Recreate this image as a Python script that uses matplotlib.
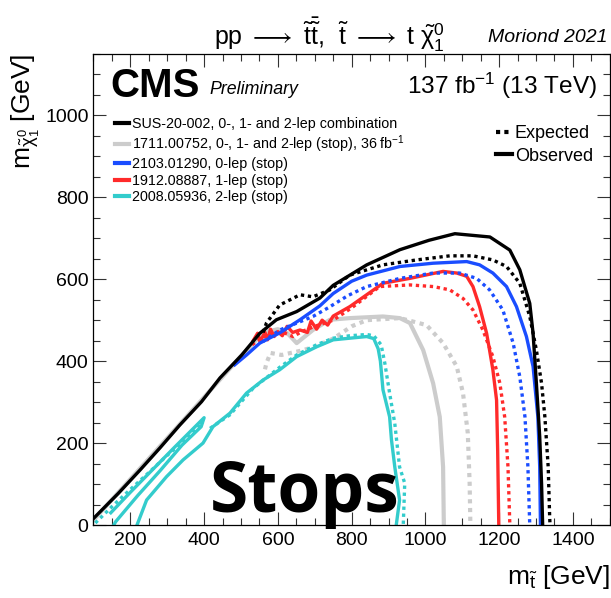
import matplotlib
matplotlib.use('Agg')
import matplotlib.pyplot as plt
from matplotlib.lines import Line2D
from matplotlib.ticker import MultipleLocator

plt.rcParams['font.family'] = ['Liberation Sans', 'DejaVu Sans']
plt.rcParams['mathtext.fontset'] = 'custom'
plt.rcParams['mathtext.rm'] = 'Liberation Sans'
plt.rcParams['mathtext.it'] = 'Liberation Sans:italic'
plt.rcParams['mathtext.bf'] = 'Liberation Sans:bold'

# SUS-20-002 combination
comb_obs_x = [100, 167, 226, 280, 334, 393, 443, 502, 551, 596, 651, 714, 750, 841, 931, 1010, 1080, 1175, 1229, 1256, 1283, 1292, 1301, 1310, 1315, 1318]
comb_obs_y = [16, 77, 134, 188, 244, 301, 359, 415, 468, 501, 521, 554, 585, 635, 672, 695, 711, 703, 671, 623, 541, 468, 346, 216, 102, 0]
comb_exp_x = [560, 569, 605, 660, 695, 741, 795, 885, 976, 1066, 1129, 1183, 1220, 1256, 1283, 1301, 1315, 1324, 1333, 1337, 1338]
comb_exp_y = [470, 493, 537, 562, 557, 574, 610, 635, 647, 657, 657, 647, 631, 590, 509, 427, 346, 264, 142, 20, 0]

# 1711.00752 (36 fb-1)
old_obs_x = [100, 200, 300, 400, 500, 560, 600, 625, 651, 695, 741, 795, 885, 931, 958, 994, 1021, 1039, 1048, 1050]
old_obs_y = [12, 112, 212, 312, 412, 470, 478, 469, 444, 476, 501, 505, 509, 505, 493, 427, 346, 264, 142, 0]
old_exp_x = [565, 569, 580, 610, 660, 700, 750, 800, 841, 931, 1003, 1048, 1085, 1102, 1115, 1120, 1122]
old_exp_y = [380, 395, 420, 415, 425, 435, 455, 485, 500, 505, 488, 444, 387, 322, 224, 102, 0]

# 2103.01290, 0-lep
zero_obs_x = [483, 515, 551, 605, 660, 714, 750, 800, 841, 931, 1021, 1112, 1147, 1183, 1220, 1247, 1274, 1292, 1305, 1310, 1312]
zero_obs_y = [391, 415, 444, 469, 501, 535, 565, 595, 610, 631, 639, 643, 635, 615, 582, 533, 460, 387, 264, 142, 0]
zero_exp_x = [560, 605, 695, 736, 790, 841, 931, 1021, 1093, 1139, 1174, 1210, 1238, 1256, 1270, 1278, 1283]
zero_exp_y = [448, 476, 509, 530, 560, 582, 602, 615, 615, 602, 574, 525, 444, 362, 264, 142, 0]

# 1912.08887, 1-lep
one_obs_x = [533, 545, 552, 565, 572, 580, 590, 600, 612, 625, 640, 660, 680, 690, 705, 720, 735, 750, 795, 885, 958, 1048, 1085, 1112, 1129, 1147, 1166, 1174, 1183, 1193, 1196, 1199]
one_obs_y = [450, 468, 448, 470, 452, 478, 460, 472, 462, 485, 470, 476, 470, 498, 478, 500, 488, 510, 533, 590, 602, 619, 615, 607, 582, 533, 468, 427, 379, 305, 183, 0]
one_exp_x = [530, 560, 590, 620, 641, 665, 700, 750, 800, 876, 958, 1021, 1066, 1102, 1129, 1156, 1183, 1202, 1215, 1224, 1229]
one_exp_y = [440, 458, 470, 468, 460, 472, 485, 500, 530, 582, 586, 582, 574, 553, 525, 476, 411, 346, 264, 142, 0]

# 2008.05936, 2-lep
two_obs_x = [218, 244, 298, 343, 397, 424, 470, 515, 560, 605, 651, 705, 750, 795, 841, 860, 872, 878, 885, 903, 908, 917, 930, 921]
two_obs_y = [0, 61, 118, 159, 200, 240, 273, 322, 354, 379, 411, 435, 452, 456, 460, 455, 430, 400, 330, 264, 208, 142, 61, 0]
two_exp_x = [416, 470, 533, 605, 651, 705, 750, 795, 841, 860, 880, 890, 903, 917, 930, 944, 940]
two_exp_y = [236, 269, 334, 385, 415, 440, 456, 462, 465, 462, 440, 395, 322, 248, 142, 102, 0]
two_arrow_x = [147, 200, 260, 320, 370, 400, 392, 340, 280, 220, 160, 155]
two_arrow_y = [30, 80, 135, 190, 235, 262, 240, 195, 132, 72, 8, 0]
two_arrow_exp_x = [105, 150, 200, 250, 300, 350, 397]
two_arrow_exp_y = [5, 45, 87, 128, 170, 210, 250]

labels = ['SUS-20-002, 0-, 1- and 2-lep combination',
          '1711.00752, 0-, 1- and 2-lep (stop), 36 fb$^{-1}$',
          '2103.01290, 0-lep (stop)',
          '1912.08887, 1-lep (stop)',
          '2008.05936, 2-lep (stop)']
colors = ['black', '#cccccc', '#1a4dff', '#ff2a2a', '#33cccc']

dot = (0, (1.0, 1.1))
lw = 2.4

fig = plt.figure(figsize=(6.11, 5.98), dpi=100)
ax = fig.add_axes([0.153, 0.122, 0.845, 0.788])

# expected (dotted) first, observed on top
ax.plot(old_obs_x, old_obs_y, color=colors[1], lw=lw + 0.6)
ax.plot(old_exp_x, old_exp_y, color=colors[1], lw=lw + 0.6, ls=dot)
ax.plot(two_arrow_exp_x, two_arrow_exp_y, color=colors[4], lw=lw, ls=dot)
ax.plot(two_exp_x, two_exp_y, color=colors[4], lw=lw, ls=dot)
ax.plot(two_arrow_x, two_arrow_y, color=colors[4], lw=lw)
ax.plot(two_obs_x, two_obs_y, color=colors[4], lw=lw)
ax.plot(one_exp_x, one_exp_y, color=colors[3], lw=lw, ls=dot)
ax.plot(one_obs_x, one_obs_y, color=colors[3], lw=lw)
ax.plot(zero_exp_x, zero_exp_y, color=colors[2], lw=lw, ls=dot)
ax.plot(zero_obs_x, zero_obs_y, color=colors[2], lw=lw)
ax.plot(comb_exp_x, comb_exp_y, color=colors[0], lw=lw, ls=dot)
ax.plot(comb_obs_x, comb_obs_y, color=colors[0], lw=lw)

ax.set_xlim(100, 1500)
ax.set_ylim(0, 1150)
ax.xaxis.set_major_locator(MultipleLocator(200))
ax.xaxis.set_minor_locator(MultipleLocator(50))
ax.yaxis.set_major_locator(MultipleLocator(200))
ax.yaxis.set_minor_locator(MultipleLocator(50))
ax.tick_params(which='both', direction='in', top=True, right=True, labelsize=14, width=0.8, color='#333333')
ax.tick_params(which='major', length=9.5)
ax.tick_params(which='minor', length=5)
ax.tick_params(axis='x', pad=5)
for s in ax.spines.values():
    s.set_linewidth(0.9)

ax.set_xlabel(r'm$_{\tilde{\mathrm{t}}}$ [GeV]', fontsize=19, loc='right', labelpad=10)
ax.set_ylabel(r'm$_{\tilde{\mathrm{\chi}}^{0}_{1}}$ [GeV]', fontsize=19, loc='top', labelpad=2)

title = (r'pp $\longrightarrow$ $\tilde{\mathrm{t}}\bar{\tilde{\mathrm{t}}}$,  $\tilde{\mathrm{t}}$ $\longrightarrow$ t $\tilde{\mathrm{\chi}}^{0}_{1}$')
fig.text(0.54, 0.942, title, fontsize=18, ha='center', va='center')
fig.text(0.995, 0.938, 'Moriond 2021', fontsize=14, style='italic', ha='right', va='center')

ax.text(0.033, 0.932, 'CMS', transform=ax.transAxes, fontsize=29, weight='bold', va='center')
ax.text(0.224, 0.925, 'Preliminary', transform=ax.transAxes, fontsize=12.8, style='italic', va='center')
ax.text(0.975, 0.932, '137 fb$^{-1}$ (13 TeV)', transform=ax.transAxes, fontsize=17.6, ha='right', va='center')

ax.text(416, 32, 'Stops', fontsize=50, weight='bold', family='Open Sans', ha='left', va='baseline')

handles = [Line2D([], [], color=c, lw=3) for c in colors]
leg1 = ax.legend(handles, labels, loc='upper left', bbox_to_anchor=(0.03, 0.879), fontsize=10.3,
                 frameon=False, handlelength=1.0, handletextpad=0.2, labelspacing=0.18, borderaxespad=0)
ax.add_artist(leg1)
h2 = [Line2D([], [], color='black', lw=3, ls=(0, (1, 1))), Line2D([], [], color='black', lw=3)]
ax.legend(h2, ['Expected', 'Observed'], loc='upper left', bbox_to_anchor=(0.765, 0.864), fontsize=13,
          frameon=False, handlelength=0.9, handletextpad=0.15, labelspacing=0.3, borderaxespad=0)

fig.savefig('out.png', dpi=100)
